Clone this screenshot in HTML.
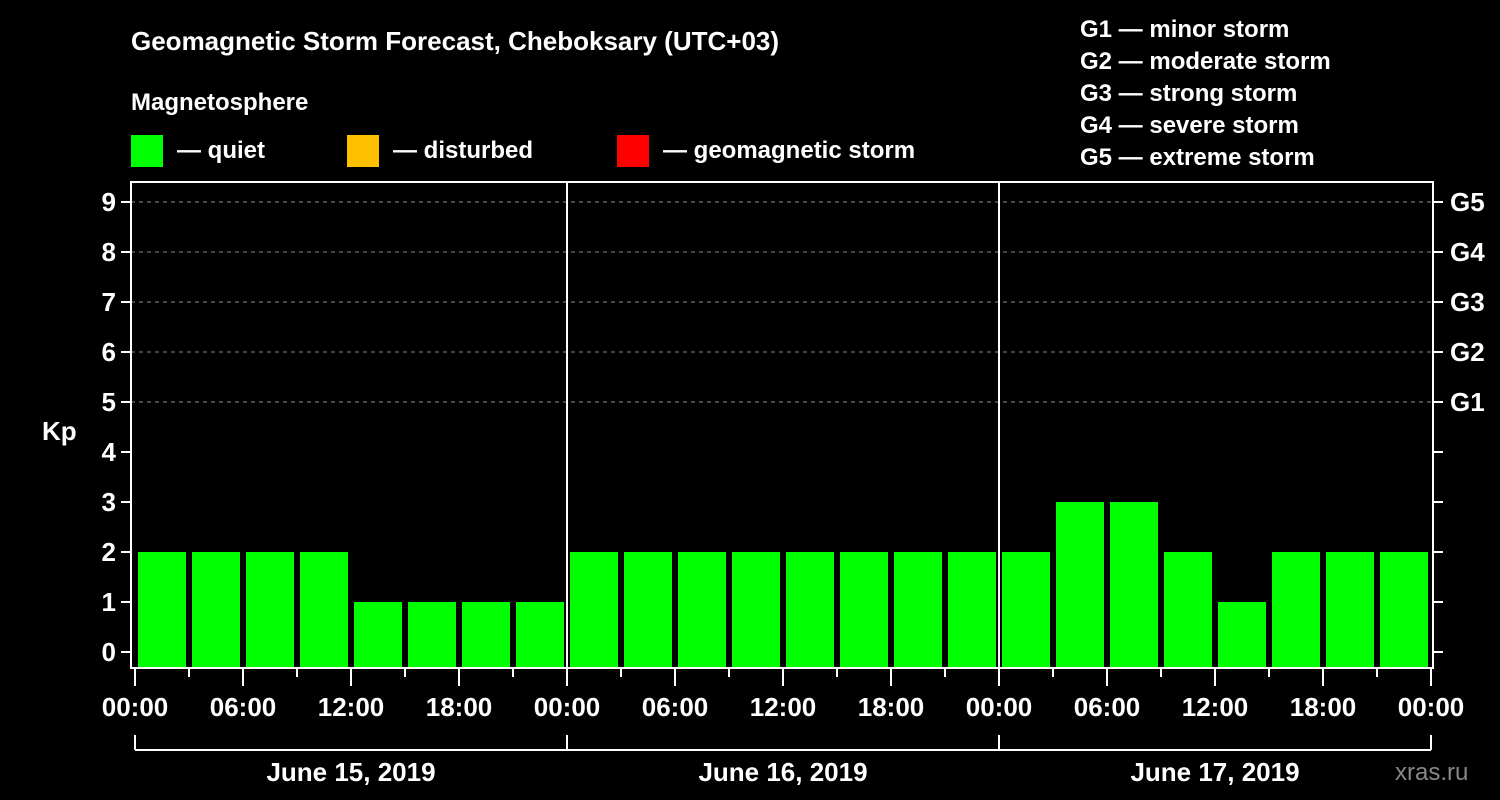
<!DOCTYPE html>
<html><head><meta charset="utf-8"><style>
body{margin:0;background:#000;width:1500px;height:800px;overflow:hidden}
svg{display:block;font-family:"Liberation Sans",sans-serif;font-weight:bold}
</style></head><body>
<svg id="c" width="1500" height="800">
<text x="131" y="50" fill="#fff" font-size="26">Geomagnetic Storm Forecast, Cheboksary (UTC+03)</text>
<text x="131" y="110" fill="#fff" font-size="24">Magnetosphere</text>
<rect x="131" y="135" width="32" height="32" fill="#00ff00"/>
<text x="177" y="158" fill="#fff" font-size="24">— quiet</text>
<rect x="347" y="135" width="32" height="32" fill="#ffc000"/>
<text x="393" y="158" fill="#fff" font-size="24">— disturbed</text>
<rect x="617" y="135" width="32" height="32" fill="#ff0000"/>
<text x="663" y="158" fill="#fff" font-size="24">— geomagnetic storm</text>
<g fill="#fff" font-size="24">
<text x="1080" y="37">G1 — minor storm</text>
<text x="1080" y="69">G2 — moderate storm</text>
<text x="1080" y="101">G3 — strong storm</text>
<text x="1080" y="133">G4 — severe storm</text>
<text x="1080" y="165">G5 — extreme storm</text>
</g>
<text x="42" y="440" fill="#fff" font-size="26">Kp</text>
<text x="1395" y="780" fill="#888" font-size="24" font-weight="normal">xras.ru</text>
<g id="g"></g>
</svg>
<script>
const kpValues=[2,2,2,2,1,1,1,1, 2,2,2,2,2,2,2,2, 2,3,3,2,1,2,2,2];
const dayLabels=["June 15, 2019","June 16, 2019","June 17, 2019"];
const yTicks=[0,1,2,3,4,5,6,7,8,9];
const gLabels=["G1","G2","G3","G4","G5"];
const hourLabels=["00:00","06:00","12:00","18:00"];
const X0=135,DAY=432,SLOT=54;
const y=v=>652-50*v;
const x=i=>X0+i*SLOT;
const g=document.getElementById('g');
const NS='http://www.w3.org/2000/svg';
function mk(t,a,txt){const e=document.createElementNS(NS,t);for(const k in a)e.setAttribute(k,a[k]);if(txt!==undefined)e.textContent=txt;g.appendChild(e);return e;}
// grid
for(let v=5;v<=9;v++){const e=mk('line',{x1:131,x2:1433,y1:y(v),y2:y(v),stroke:'#888','stroke-dasharray':'4,4'});

}
// bars
kpValues.forEach((v,i)=>{const c=v>=5?'#ff0000':(v>=4?'#ffc000':'#00ff00');
const e=mk('rect',{x:x(i)+3,y:y(v),width:48,height:668-y(v),fill:c});

});
// frame
const fr=mk('rect',{x:131,y:182,width:1302,height:486,fill:'none',stroke:'#fff','stroke-width':2});


for(let d=1;d<3;d++){const e=mk('line',{x1:X0+d*DAY,x2:X0+d*DAY,y1:182,y2:668,stroke:'#fff','stroke-width':2});

}
// y ticks
yTicks.forEach(v=>{mk('line',{x1:121,x2:131,y1:y(v),y2:y(v),stroke:'#fff','stroke-width':2});
mk('line',{x1:1433,x2:1443,y1:y(v),y2:y(v),stroke:'#fff','stroke-width':2});
const t=mk('text',{x:116,y:y(v)+9,fill:'#fff','font-size':26,'text-anchor':'end'},String(v));

});
gLabels.forEach((l,i)=>{const t=mk('text',{x:1450,y:y(5+i)+9,fill:'#fff','font-size':26},l);

});
// x ticks
for(let i=0;i<=24;i++){const major=i%2===0;
mk('line',{x1:x(i),x2:x(i),y1:668,y2:major?686:677,stroke:'#fff','stroke-width':2});
if(major){const t=mk('text',{x:x(i),y:716,fill:'#fff','font-size':26,'text-anchor':'middle'},hourLabels[(i/2)%4]);

}}
// day brackets
mk('line',{x1:X0,x2:X0+3*DAY,y1:750,y2:750,stroke:'#fff','stroke-width':2});
for(let d=0;d<=3;d++)mk('line',{x1:X0+d*DAY,x2:X0+d*DAY,y1:735,y2:750,stroke:'#fff','stroke-width':2});
dayLabels.forEach((l,d)=>{const t=mk('text',{x:X0+d*DAY+DAY/2,y:781,fill:'#fff','font-size':26,'text-anchor':'middle'},l);

});
</script>
</body></html>
